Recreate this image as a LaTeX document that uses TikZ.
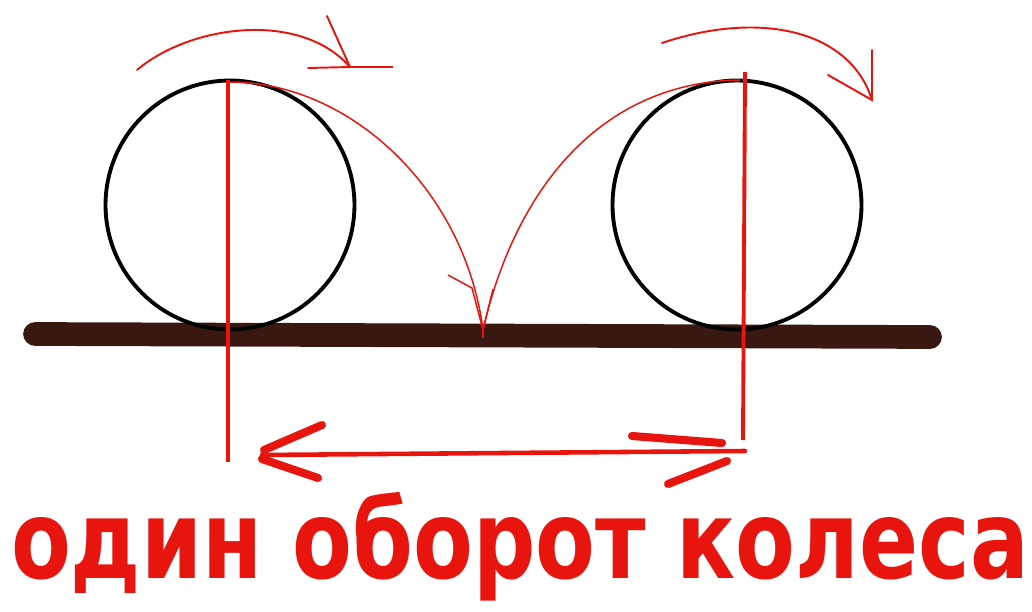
\documentclass[tikz,border=0pt]{standalone}
\usepackage{fontspec}
\newfontfamily\handfont{DejaVu Sans}
\usetikzlibrary{calc}
\definecolor{penred}{HTML}{E8150E}
\definecolor{groundbrown}{HTML}{3A1812}
\tikzset{
groundline/.style={line width=13.5pt,draw=groundbrown,line cap=round},
wheel/.style={circle,draw=black,line width=2.2pt,inner sep=0pt,outer sep=0pt,minimum size=4.98cm},
radiusline/.style={draw=penred,line width=2.2pt},
traceline/.style={draw=penred,line width=0.85pt},
turnarrow/.style={draw=penred,line width=1.1pt,line cap=round},
spanline/.style={draw=penred,line width=2.6pt,line cap=round},
spanbarb/.style={draw=penred,line width=4.6pt,line cap=round},
caption/.style={text=penred,font=\handfont\bfseries\fontsize{62}{70}\selectfont,inner sep=0pt,anchor=base}
}
\begin{document}
\begin{tikzpicture}[x=0.02cm,y=-0.02cm]
\useasboundingbox (0,0) rectangle (1032,612);
% ground
\coordinate (groundL) at (35,334);
\coordinate (groundR) at (930,337);
\draw[groundline] (groundL) -- (groundR);
% two positions of the wheel
\node[wheel] (wheelA) at (230,205) {};
\node[wheel] (wheelB) at (737,205) {};
% marked point, start and end
\coordinate (markA) at (228,80);
\coordinate (footA) at (228,462);
\coordinate (markB) at (745,72);
\coordinate (footB) at (743,440);
\draw[radiusline] (markA) -- (footA);
\draw[radiusline] (markB) -- (footB);
% path of the point
\coordinate (cusp) at (483,330);
\draw[traceline] (230,82) .. controls (350,82) and (465,190) .. (cusp);
\draw[traceline] (cusp) .. controls (515,190) and (600,82) .. (740,80);
\draw[traceline] (448,275) -- (472,288) -- (cusp) -- (493,289);
\draw[traceline] (cusp) -- (483,338);
% turning arrows
\coordinate (turnA) at (350,67);
\coordinate (turnB) at (872,100);
\draw[turnarrow] (137,70) .. controls (190,25) and (300,10) .. (turnA);
\draw[turnarrow] (327,16) -- (turnA) -- (308,68);
\draw[traceline] (turnA) -- (393,67);
\draw[turnarrow] (662,43) .. controls (760,10) and (850,30) .. (turnB);
\draw[turnarrow] (872,50) -- (turnB) -- (828,75);
% one turn of the wheel
\coordinate (spanL) at (262,455);
\coordinate (spanR) at (745,451);
\draw[spanline] (spanL) -- (spanR);
\draw[spanbarb] (322,425) -- (264,450);
\draw[spanbarb] (262,459) -- (318,478);
\draw[spanbarb] (632,436) -- (722,443);
\draw[spanbarb] (727,461) -- (668,484);
\node[caption,xscale=0.8] (label) at (520,578) {один оборот колеса};
\end{tikzpicture}
\end{document}
